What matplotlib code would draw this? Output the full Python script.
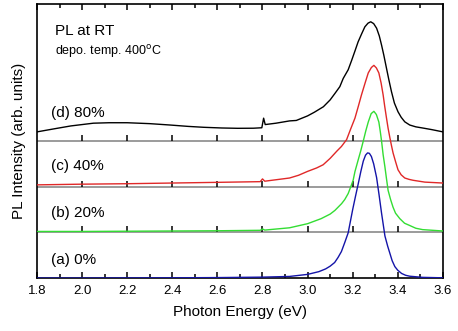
import matplotlib
matplotlib.use("Agg")
import matplotlib.pyplot as plt
from matplotlib.ticker import MultipleLocator

plt.rcParams['font.family'] = ['Liberation Sans', 'DejaVu Sans']

# ---- data, intensities relative to each baseline ----
e_a = [1.80, 2.00, 2.40, 2.60, 2.80, 2.92, 3.00, 3.05, 3.08, 3.10, 3.12, 3.135, 3.15,
       3.165, 3.18, 3.20, 3.212, 3.224, 3.236, 3.247, 3.257, 3.266, 3.274, 3.283,
       3.293, 3.306, 3.317, 3.328, 3.343, 3.355, 3.365, 3.375, 3.387, 3.40, 3.417,
       3.435, 3.453, 3.51, 3.60]
v_a = [0.0, 0.0, 0.005, 0.01, 0.02, 0.035, 0.08, 0.14, 0.20, 0.26, 0.34, 0.45, 0.58,
       0.78, 0.99, 1.50, 1.78, 2.05, 2.33, 2.56, 2.69, 2.74, 2.73, 2.66,
       2.50, 2.20, 1.82, 1.42, 0.92, 0.70, 0.54, 0.38, 0.25, 0.17, 0.10,
       0.06, 0.04, 0.015, 0.005]

e_b = [1.80, 2.00, 2.20, 2.40, 2.60, 2.79, 2.80, 2.81, 2.92, 3.00, 3.06, 3.10, 3.121,
       3.135, 3.151, 3.165, 3.18, 3.19, 3.202, 3.21, 3.224, 3.236, 3.247, 3.258, 3.269,
       3.282, 3.294, 3.305, 3.316, 3.322, 3.328, 3.335, 3.343, 3.35, 3.357, 3.368,
       3.379, 3.39, 3.409, 3.43, 3.453, 3.48, 3.51, 3.60]
v_b = [0.02, 0.02, 0.025, 0.03, 0.035, 0.045, 0.075, 0.05, 0.10, 0.19, 0.30, 0.40, 0.48,
       0.55, 0.63, 0.72, 0.85, 0.98, 1.14, 1.33, 1.58, 1.79, 2.00, 2.22, 2.415,
       2.60, 2.65, 2.58, 2.415, 2.22, 2.00, 1.70, 1.43, 1.17, 0.92, 0.72,
       0.55, 0.42, 0.30, 0.20, 0.15, 0.09, 0.06, 0.03]

e_c = [1.80, 2.00, 2.20, 2.40, 2.60, 2.79, 2.80, 2.81, 2.92, 2.96, 3.00, 3.04, 3.069,
       3.10, 3.13, 3.15, 3.173, 3.19, 3.21, 3.225, 3.239, 3.255, 3.269, 3.283, 3.294,
       3.305, 3.316, 3.326, 3.335, 3.342, 3.35, 3.357, 3.365, 3.372, 3.379, 3.39,
       3.401, 3.415, 3.431, 3.45, 3.468, 3.52, 3.60]
v_c = [0.04, 0.055, 0.065, 0.08, 0.095, 0.11, 0.17, 0.12, 0.19, 0.25, 0.335, 0.41, 0.48,
       0.62, 0.78, 0.88, 1.03, 1.25, 1.50, 1.76, 2.01, 2.27, 2.49, 2.61, 2.656,
       2.60, 2.49, 2.27, 2.01, 1.76, 1.50, 1.28, 1.07, 0.90, 0.74, 0.55,
       0.37, 0.26, 0.19, 0.16, 0.14, 0.10, 0.08]

e_d = [1.80, 1.88, 1.95, 2.05, 2.12, 2.20, 2.30, 2.39, 2.47, 2.54, 2.62, 2.69, 2.76,
       2.797, 2.805, 2.812, 2.86, 2.92, 2.95, 3.00, 3.03, 3.07, 3.10, 3.121, 3.143,
       3.158, 3.18, 3.195, 3.21, 3.224, 3.24, 3.254, 3.268, 3.280, 3.293, 3.306,
       3.318, 3.328, 3.338, 3.35, 3.36, 3.372, 3.385, 3.401, 3.415, 3.431, 3.453,
       3.48, 3.51, 3.55, 3.60]
v_d = [0.20, 0.27, 0.33, 0.39, 0.40, 0.40, 0.38, 0.35, 0.32, 0.30, 0.285, 0.278, 0.28,
       0.29, 0.50, 0.36, 0.39, 0.44, 0.45, 0.55, 0.63, 0.75, 0.90, 1.04, 1.19,
       1.37, 1.56, 1.76, 1.97, 2.17, 2.35, 2.50, 2.58, 2.61, 2.57, 2.47,
       2.30, 2.10, 1.88, 1.59, 1.35, 1.08, 0.83, 0.64, 0.52, 0.42, 0.35,
       0.31, 0.285, 0.25, 0.20]

labels = ["(a) 0%", "(b) 20%", "(c) 40%", "(d) 80%"]
xticks = [1.8, 2.0, 2.2, 2.4, 2.6, 2.8, 3.0, 3.2, 3.4, 3.6]
xticklabels = ["1.8", "2.0", "2.2", "2.4", "2.6", "2.8", "3.0", "3.2", "3.4", "3.6"]

# ---- styling ----
colors = ['#1414a8', '#33dd33', '#e02828', 'black']
baselines = [0, 1, 2, 3]
label_y = [0.39, 1.42, 2.45, 3.62]

fig = plt.figure(figsize=(4.58, 3.31), dpi=100)
ax = fig.add_axes([0.0808, 0.160, 0.967 - 0.0808, 0.988 - 0.160])
ax.set_xlim(1.8, 3.6)
ax.set_ylim(0, 6)

# separators (gray lines) with small upward ticks at major positions
for b in baselines[1:]:
    ax.axhline(b, color='#808080', lw=1.1, zorder=1)
    ax.vlines(xticks[1:-1], b, b + 0.13, color='black', lw=1.1, zorder=1.5)

series = [(e_a, v_a), (e_b, v_b), (e_c, v_c), (e_d, v_d)]
for (e, v), c, b in zip(series, colors, baselines):
    ax.plot(e, [val + b for val in v], color=c, lw=1.0, zorder=3)

for lab, y in zip(labels, label_y):
    ax.text(1.862, y, lab, fontsize=11, va='center', ha='left')

ax.text(1.88, 5.41, "PL at RT", fontsize=11, va='center', ha='left')
ax.text(1.88, 4.95, "depo. temp. 400$^{\\rm o}$C", fontsize=9, va='center', ha='left')

ax.set_xticks(xticks)
ax.set_xticklabels(xticklabels)
ax.xaxis.set_minor_locator(MultipleLocator(0.1))
ax.tick_params(axis='y', which='both', left=False, right=False, labelleft=False)
ax.tick_params(axis='x', which='major', direction='in', top=True, length=4.2,
               width=1.1, labelsize=9.5, pad=5)
ax.tick_params(axis='x', which='minor', direction='in', top=True, length=2.6, width=1.1)
for s in ax.spines.values():
    s.set_linewidth(1.2)

ax.set_xlabel("Photon Energy (eV)", fontsize=11, labelpad=6)
ax.set_ylabel("PL Intensity (arb. units)", fontsize=11, labelpad=8)

fig.savefig("out.png", dpi=100)
